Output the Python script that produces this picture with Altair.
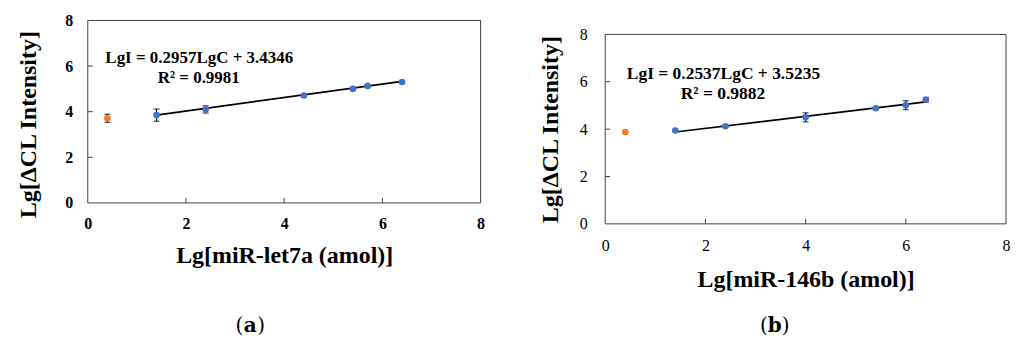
import altair as alt
import pandas as pd

FONT = "Liberation Serif"
BLUE = "#4472C4"
ORANGE = "#ED7D31"
FRAME = "#404040"

tick_values = [0, 2, 4, 6, 8]

# ---- Panel (a): miR-let7a ----
a_x = [1.4, 2.4, 4.4, 5.4, 5.7, 6.4]
a_y = [3.85, 4.10, 4.71, 5.00, 5.13, 5.30]
a_err = [0.27, 0.16, 0.04, 0.04, 0.04, 0.04]
a_blank_x = [0.4]
a_blank_y = [3.71]
a_blank_err = [0.18]
a_fit_x = [1.4, 6.4]
a_fit_y = [3.85, 5.33]
a_eq_text = ["LgI = 0.2957LgC + 3.4346", "R² = 0.9981"]
a_eq_x = [2.27, 2.26]
a_eq_y = [6.34, 5.46]
a_xtitle = "Lg[miR-let7a (amol)]"

# ---- Panel (b): miR-146b ----
b_x = [1.4, 2.4, 4.0, 5.4, 6.0, 6.4]
b_y = [3.94, 4.12, 4.50, 4.88, 5.01, 5.24]
b_err = [0.03, 0.04, 0.19, 0.04, 0.19, 0.10]
b_blank_x = [0.4]
b_blank_y = [3.88]
b_blank_err = [0.02]
b_fit_x = [1.4, 6.4]
b_fit_y = [3.88, 5.15]
b_eq_text = ["LgI = 0.2537LgC + 3.5235", "R² = 0.9882"]
b_eq_x = [2.36, 2.35]
b_eq_y = [6.33, 5.49]
b_xtitle = "Lg[miR-146b (amol)]"

ytitle = "Lg[ΔCL Intensity]"


def panel(xs, ys, errs, bx, by, berr, fx, fy, eq_text, eq_x, eq_y, xtitle,
          W, H, off, label_bold, lab_pad_x, tit_pad_x, lab_pad_y, tit_pad_y,
          letter, cap_x, cap_y, lab_size, eq_size, title_y=None):
    weight = "bold" if label_bold else "normal"
    common = dict(ticks=False, domain=False, grid=False, values=tick_values,
                  labelFont=FONT, labelFontWeight=weight, labelFontSize=lab_size,
                  labelColor="black", labelFlush=False, labelOverlap=False,
                  titleFont=FONT, titleFontWeight="bold", titleFontSize=24,
                  titleColor="black", format="d")
    xaxis = alt.Axis(title=xtitle, labelPadding=lab_pad_x, titlePadding=tit_pad_x, **common)
    if title_y is not None:
        yaxis = alt.Axis(title=ytitle, labelPadding=lab_pad_y, titlePadding=tit_pad_y,
                         titleY=title_y, **common)
    else:
        yaxis = alt.Axis(title=ytitle, labelPadding=lab_pad_y, titlePadding=tit_pad_y, **common)
    Ht = H + off
    sx = alt.Scale(domain=[0, 8], nice=False, zero=False)
    sy = alt.Scale(domain=[0, 8], nice=False, zero=False, range=[Ht, off])

    def X(f):
        return alt.X(f, type="quantitative", scale=sx, axis=xaxis)

    def Y(f):
        return alt.Y(f, type="quantitative", scale=sy, axis=yaxis)

    pts = pd.DataFrame({"x": xs, "y": ys, "lo": [v - e for v, e in zip(ys, errs)],
                        "hi": [v + e for v, e in zip(ys, errs)]})
    blank = pd.DataFrame({"x": bx, "y": by, "lo": [v - e for v, e in zip(by, berr)],
                          "hi": [v + e for v, e in zip(by, berr)]})
    fit = pd.DataFrame({"x": fx, "y": fy})
    eq = pd.DataFrame({"x": eq_x, "y": eq_y, "t": eq_text})
    tk = pd.DataFrame({"t": tick_values[1:-1]})
    one = pd.DataFrame({"k": [0]})

    layers = []
    # plot frame
    layers.append(alt.Chart(one).mark_rect(filled=False, stroke=FRAME, strokeWidth=1).encode(
        x=alt.value(0), x2=alt.value(W), y=alt.value(off), y2=alt.value(Ht)))
    # inward ticks
    layers.append(alt.Chart(tk).mark_rule(color=FRAME, strokeWidth=1).encode(
        x=X("t"), y=alt.value(Ht), y2=alt.value(Ht - 5)))
    layers.append(alt.Chart(tk).mark_rule(color=FRAME, strokeWidth=1).encode(
        y=Y("t"), x=alt.value(0), x2=alt.value(5)))
    # fit line
    layers.append(alt.Chart(fit).mark_line(color="black", strokeWidth=1.7).encode(
        x=X("x"), y=Y("y")))
    for df, col in ((pts, BLUE), (blank, ORANGE)):
        layers.append(alt.Chart(df).mark_rule(color="black", strokeWidth=1.2).encode(
            x=X("x"), y=Y("lo"), y2="hi"))
        for f in ("lo", "hi"):
            layers.append(alt.Chart(df).mark_tick(color="black", thickness=1.2, size=6,
                                                  orient="horizontal").encode(
                x=X("x"), y=Y(f)))
        layers.append(alt.Chart(df).mark_circle(color=col, opacity=1, size=44).encode(
            x=X("x"), y=Y("y")))
    # equation text
    layers.append(alt.Chart(eq).mark_text(font=FONT, fontWeight="bold", fontSize=eq_size,
                                          color="black").encode(
        x=X("x"), y=Y("y"), text="t:N"))
    # caption (a)/(b)
    half = 7
    layers.append(alt.Chart(one).mark_text(text="(", font="DejaVu Serif", fontSize=20,
                                           align="right", baseline="middle", color="black").encode(
        x=alt.value(cap_x - half), y=alt.value(cap_y)))
    layers.append(alt.Chart(one).mark_text(text=letter, font="DejaVu Serif", fontSize=20,
                                           fontWeight="bold", align="center", baseline="middle",
                                           color="black").encode(
        x=alt.value(cap_x), y=alt.value(cap_y)))
    layers.append(alt.Chart(one).mark_text(text=")", font="DejaVu Serif", fontSize=20,
                                           align="left", baseline="middle", color="black").encode(
        x=alt.value(cap_x + half), y=alt.value(cap_y)))
    return alt.layer(*layers).properties(width=W, height=Ht)


left = panel(a_x, a_y, a_err, a_blank_x, a_blank_y, a_blank_err, a_fit_x, a_fit_y,
             a_eq_text, a_eq_x, a_eq_y, a_xtitle,
             W=394, H=183, off=0, label_bold=True, lab_pad_x=13, tit_pad_x=12,
             lab_pad_y=15, tit_pad_y=24, letter="a", cap_x=163, cap_y=306,
             lab_size=16, eq_size=17, title_y=104)

right = panel(b_x, b_y, b_err, b_blank_x, b_blank_y, b_blank_err, b_fit_x, b_fit_y,
              b_eq_text, b_eq_x, b_eq_y, b_xtitle,
              W=402, H=190, off=14, label_bold=False, lab_pad_x=14, tit_pad_x=14,
              lab_pad_y=18, tit_pad_y=17, letter="b", cap_x=170, cap_y=306,
              lab_size=16, eq_size=17.5)

chart = alt.hconcat(left, right, spacing=52).properties(
    padding={"left": 8, "top": 3, "right": 0, "bottom": 0}
).configure_view(stroke="transparent").configure_axis(
    labelFont=FONT, titleFont=FONT
)

chart.save("out.html", embed_options={"renderer": "svg", "actions": False})
